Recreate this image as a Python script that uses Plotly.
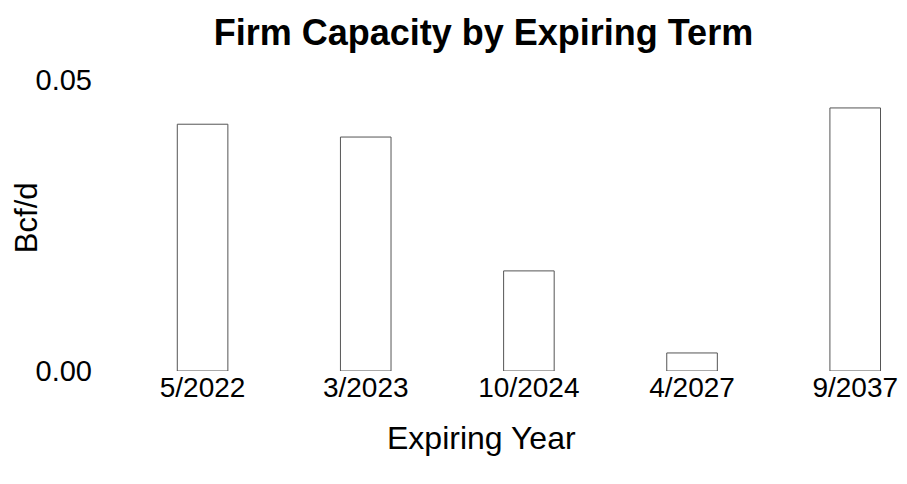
import plotly.graph_objects as go

categories = ["5/2022", "3/2023", "10/2024", "4/2027", "9/2037"]
values = [0.0424, 0.0402, 0.0172, 0.0031, 0.0452]

font = "Liberation Sans, Arial, sans-serif"

fig = go.Figure()
fig.add_trace(go.Bar(
    x=list(range(len(categories))),
    y=values,
    width=0.31,
    marker=dict(color="white", line=dict(color="#555555", width=1)),
))

fig.update_layout(
    width=907, height=484,
    margin=dict(l=121, r=9, t=80, b=113),
    paper_bgcolor="white", plot_bgcolor="white",
    showlegend=False,
    font=dict(family=font, size=20, color="black"),
    title=dict(text="<b>Firm Capacity by Expiring Term</b>", x=0.533, xanchor="center",
               y=0.933, yanchor="middle", font=dict(size=36, family=font, color="black")),
    xaxis=dict(
        range=[-0.5, 4.25], tickmode="array",
        tickvals=list(range(len(categories))), ticktext=categories,
        showgrid=False, zeroline=False, showline=False,
        tickfont=dict(size=28), ticklabelstandoff=-3,
    ),
    yaxis=dict(
        range=[0, 0.05], tickmode="array", tickvals=[0, 0.05],
        ticktext=["0.00", "0.05"], showgrid=False, zeroline=False, showline=False,
        tickfont=dict(size=29), ticklabelstandoff=28,
    ),
    annotations=[
        dict(text="Expiring Year", xref="paper", yref="paper", x=0.465, y=-0.230,
             xanchor="center", yanchor="middle", showarrow=False, font=dict(size=32)),
        dict(text="Bcf/d", xref="paper", yref="paper", x=-0.121, y=0.526,
             xanchor="center", yanchor="middle", textangle=-90, showarrow=False,
             font=dict(size=31)),
    ],
)

fig.write_html("out.html", config={"displayModeBar": False},
               post_script="document.body.style.margin='0';")
